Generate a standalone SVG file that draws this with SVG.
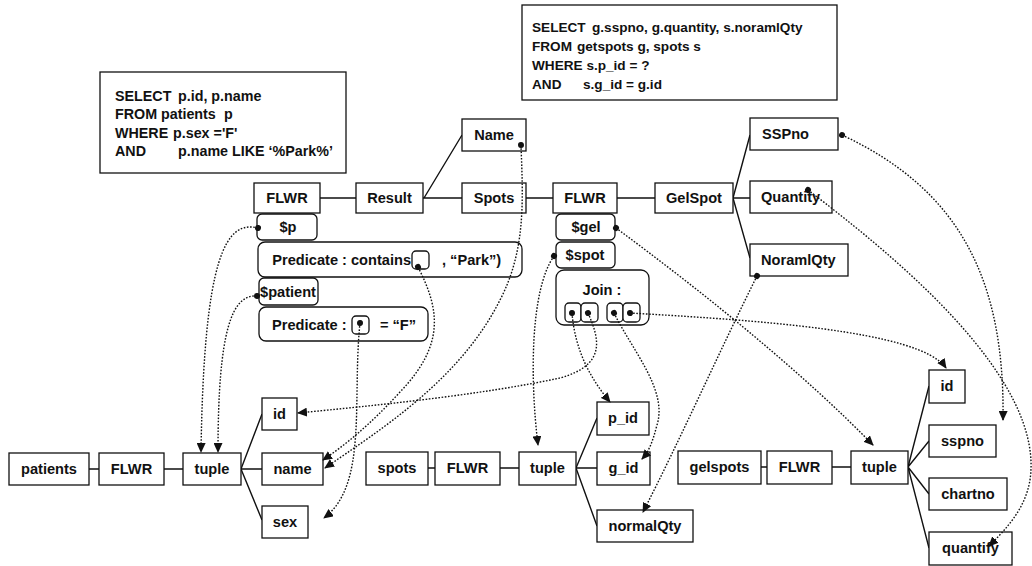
<svg xmlns="http://www.w3.org/2000/svg" width="1032" height="566" viewBox="0 0 1032 566">
<style>
rect{fill:#fff;stroke:#111;stroke-width:1.3}
text{font-family:"Liberation Sans",Arial,sans-serif;font-weight:bold;font-size:14.6px;fill:#111}
.q{font-size:14.3px}
.q2{font-size:13.6px}
.c{text-anchor:middle}
.e{text-anchor:end}
.t{stroke:#111;stroke-width:1.4;fill:none}
.d{stroke:#111;stroke-width:1.4;fill:none;stroke-dasharray:1.6 1.6;marker-start:url(#dot);marker-end:url(#arr)}
</style>
<defs>
<marker id="arr" markerUnits="userSpaceOnUse" markerWidth="10" markerHeight="9" refX="9" refY="4.5" orient="auto"><path d="M0,0 L10,4.5 L0,9 z" fill="#111"/></marker>
<marker id="dot" markerUnits="userSpaceOnUse" markerWidth="8" markerHeight="8" refX="4" refY="4" orient="auto"><circle cx="4" cy="4" r="3" fill="#111"/></marker>
</defs>

<g id="sql1">
<rect x="100" y="72" width="246" height="101"/>
<text class="q" x="115" y="101">SELECT<tspan x="178">p.id, p.name</tspan></text>
<text class="q" x="115" y="119">FROM<tspan x="161">patients</tspan><tspan x="224">p</tspan></text>
<text class="q" x="115" y="138">WHERE<tspan x="173">p.sex ='F'</tspan></text>
<text class="q" x="115" y="156">AND<tspan x="178">p.name LIKE ‘%Park%’</tspan></text>
</g>
<g id="sql2">
<rect x="522" y="5" width="315" height="95"/>
<text class="q2" x="532" y="32">SELECT<tspan x="592">g.sspno, g.quantity, s.noramlQty</tspan></text>
<text class="q2" x="532" y="51">FROM<tspan x="577">getspots g, spots s</tspan></text>
<text class="q2" x="532" y="70">WHERE s.p_id = ?</text>
<text class="q2" x="532" y="89">AND<tspan x="583">s.g_id = g.id</tspan></text>
</g>

<g id="tree-lines">
<path class="t" d="M320,198 H356 M423,198 H462 M424,198 L462,135 M526,198 H553 M617,198 H655 M733,198 L750,135 M733,198 H750 M733,198 L750,258"/>
<path class="t" d="M89,469 H99 M164,469 H183 M241,469 L262,414 M241,469 H262 M241,469 L262,520"/>
<path class="t" d="M428,468 H435 M500,468 H519 M576,468 L597,418 M576,468 H597 M576,468 L597,526"/>
<path class="t" d="M761,467 H767 M832,467 H851 M908,467 L929,386 M908,467 L929,441 M908,467 L929,494 M908,467 L929,548"/>
</g>

<g id="n-flwr1"><rect x="254" y="183" width="66" height="30"/><text class="c" x="287" y="203">FLWR</text></g>
<g id="n-result"><rect x="356" y="183" width="67" height="30"/><text class="c" x="389.5" y="203">Result</text></g>
<g id="n-name-top"><rect x="462" y="119" width="64" height="32"/><text class="c" x="494" y="140">Name</text></g>
<g id="n-spots-top"><rect x="462" y="183" width="64" height="30"/><text class="c" x="494" y="203">Spots</text></g>
<g id="n-flwr2"><rect x="553" y="183" width="64" height="30"/><text class="c" x="585" y="203">FLWR</text></g>
<g id="n-gelspot"><rect x="655" y="183" width="78" height="30"/><text class="c" x="694" y="203">GelSpot</text></g>
<g id="n-sspno-top"><rect x="750" y="118" width="88" height="32"/><text x="762" y="139">SSPno</text></g>
<g id="n-quantity-top"><rect x="750" y="181" width="82" height="32"/><text x="761" y="202">Quantity</text></g>
<g id="n-noramlqty"><rect x="750" y="244" width="98" height="32"/><text x="761" y="265">NoramlQty</text></g>

<g id="n-p"><rect x="257" y="214" width="60" height="26" rx="5"/><text class="c" x="288" y="232">$p</text></g>
<g id="n-pred1"><rect x="258" y="242" width="264" height="35" rx="7"/><text class="e" x="411" y="265">Predicate : contains</text><rect x="412" y="251" width="17" height="18" rx="4"/><text x="442" y="265">,  “Park”)</text></g>
<g id="n-patient"><rect x="259" y="278" width="59" height="27" rx="5"/><text class="c" x="288" y="297">$patient</text></g>
<g id="n-pred2"><rect x="259" y="307" width="169" height="34" rx="7"/><text x="272" y="330">Predicate :</text><rect x="352" y="316" width="17" height="18" rx="4"/><text x="380" y="330">= “F”</text></g>
<g id="n-gel"><rect x="556" y="214" width="59" height="26" rx="5"/><text class="c" x="586" y="232">$gel</text></g>
<g id="n-spot"><rect x="556" y="242" width="59" height="26" rx="5"/><text class="c" x="585" y="260">$spot</text></g>
<g id="n-join"><rect x="556" y="270" width="93" height="55" rx="8"/><text class="c" x="602" y="295">Join :</text>
<rect x="565" y="303" width="16" height="19" rx="4"/><rect x="581" y="303" width="17" height="19" rx="4"/><rect x="607" y="303" width="16" height="19" rx="4"/><rect x="623" y="303" width="17" height="19" rx="4"/></g>

<g id="n-patients"><rect x="9" y="453" width="80" height="32"/><text class="c" x="49" y="474">patients</text></g>
<g id="n-flwr3"><rect x="99" y="453" width="65" height="32"/><text class="c" x="131.5" y="474">FLWR</text></g>
<g id="n-tuple1"><rect x="183" y="453" width="58" height="32"/><text class="c" x="212" y="474">tuple</text></g>
<g id="n-id1"><rect x="262" y="398" width="35" height="32"/><text class="c" x="279.5" y="419">id</text></g>
<g id="n-name"><rect x="262" y="453" width="61" height="32"/><text class="c" x="292.5" y="474">name</text></g>
<g id="n-sex"><rect x="262" y="506" width="46" height="32"/><text class="c" x="285" y="527">sex</text></g>
<g id="n-spots"><rect x="366" y="452" width="62" height="33"/><text class="c" x="397" y="473">spots</text></g>
<g id="n-flwr4"><rect x="435" y="452" width="65" height="33"/><text class="c" x="467.5" y="473">FLWR</text></g>
<g id="n-tuple2"><rect x="519" y="452" width="57" height="33"/><text class="c" x="547.5" y="473">tuple</text></g>
<g id="n-pid"><rect x="597" y="402" width="52" height="33"/><text class="c" x="623" y="423">p_id</text></g>
<g id="n-gid"><rect x="597" y="452" width="53" height="33"/><text class="c" x="623.5" y="473">g_id</text></g>
<g id="n-normalqty"><rect x="597" y="510" width="96" height="32"/><text class="c" x="645" y="531">normalQty</text></g>
<g id="n-gelspots"><rect x="678" y="451" width="83" height="33"/><text class="c" x="719.5" y="472">gelspots</text></g>
<g id="n-flwr5"><rect x="767" y="451" width="65" height="33"/><text class="c" x="799.5" y="472">FLWR</text></g>
<g id="n-tuple3"><rect x="851" y="451" width="57" height="33"/><text class="c" x="879.5" y="472">tuple</text></g>
<g id="n-id2"><rect x="929" y="370" width="36" height="33"/><text class="c" x="947" y="391">id</text></g>
<g id="n-sspno"><rect x="929" y="425" width="67" height="32"/><text class="c" x="962.5" y="446">sspno</text></g>
<g id="n-chartno"><rect x="929" y="478" width="78" height="32"/><text class="c" x="968" y="499">chartno</text></g>
<g id="n-quantify"><rect x="929" y="532" width="83" height="33"/><text class="c" x="970.5" y="553">quantify</text></g>

<g id="connectors">
<path class="d" d="M258,228 C226,220 204,255 201,452"/>
<path class="d" d="M257,296 C232,294 218,330 218,452"/>
<path class="d" d="M418,267 C440,310 445,345 400,392 C370,425 345,445 323,460"/>
<path class="d" d="M521,145 C523,200 526,250 500,300 C460,380 380,430 325,468"/>
<path class="d" d="M360,323 C352,400 368,485 324,518"/>
<path class="d" d="M588,313 C600,340 606,365 560,378 C480,395 380,405 298,413"/>
<path class="d" d="M572,313 C575,350 590,378 610,402"/>
<path class="d" d="M614,313 C632,350 668,390 657,425 C653,440 650,450 642,459"/>
<path class="d" d="M630,313 C750,320 920,330 946,368"/>
<path class="d" d="M616,228 C700,290 800,370 873,445"/>
<path class="d" d="M554,256 C530,290 530,380 538,445"/>
<path class="d" d="M757,276 C720,350 680,440 643,512"/>
<path class="d" d="M842,135 C960,190 1005,280 1003,420"/>
<path class="d" d="M808,190 C900,260 1045,380 1030,480 C1025,510 1005,530 989,546"/>
</g>
</svg>
